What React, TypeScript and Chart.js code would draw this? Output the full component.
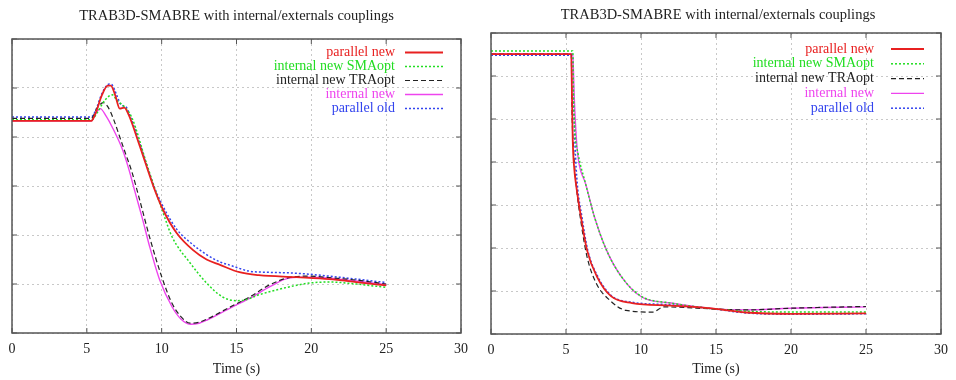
import React, { useEffect, useRef } from "react";
import { Chart, registerables } from "chart.js";

Chart.register(...registerables);

const TITLE = "TRAB3D-SMABRE with internal/externals couplings";
const X_TITLE = "Time (s)";
const SERIES_LABELS = ["parallel new", "internal new SMAopt", "internal new TRAopt", "internal new", "parallel old"];

// Left panel (time s, value)
const leftParallelNew = [[0,4.33],[5.3,4.33],[5.6,4.5],[6.0,4.85],[6.4,5.05],[6.6,5.05],[6.9,4.85],[7.2,4.58],[7.5,4.6],[7.8,4.45],[8.5,3.85],[9.5,2.95],[10.1,2.51],[11,2.04],[12.1,1.69],[13,1.5],[13.9,1.39],[15.2,1.24],[16.5,1.18],[19,1.14],[21.2,1.1],[23,1.04],[25,0.97]];
const leftSMAopt = [[0,4.35],[5.3,4.35],[5.7,4.5],[6.2,4.75],[6.7,4.86],[7.0,4.75],[7.5,4.62],[8.0,4.4],[9.0,3.45],[10.1,2.45],[10.7,1.96],[11.9,1.43],[13,1.02],[14.1,0.73],[15,0.66],[15.5,0.67],[16.5,0.78],[17.2,0.84],[18.5,0.94],[19.9,1.02],[21.2,1.04],[23,1.0],[25,0.93]];
const leftTRAopt = [[0,4.38],[5.3,4.38],[5.7,4.6],[6.1,4.7],[6.4,4.62],[6.8,4.35],[7.2,4.0],[7.6,3.65],[8.0,3.3],[8.5,2.75],[9.2,1.95],[10,1.15],[10.7,0.6],[11.3,0.33],[11.9,0.2],[12.5,0.22],[13,0.28],[14.7,0.55],[15.9,0.74],[17.2,0.98],[18.5,1.13],[19.9,1.16],[21.2,1.13],[23,1.08],[25,1.0]];
const leftInternalNew = [[0,4.33],[5.3,4.33],[5.6,4.48],[5.9,4.58],[6.3,4.42],[6.7,4.2],[7.4,3.73],[7.8,3.35],[8.2,2.9],[8.7,2.35],[9.2,1.76],[9.87,1.08],[10.7,0.53],[11.3,0.28],[11.9,0.18],[12.5,0.2],[13,0.26],[14.7,0.53],[15.9,0.71],[17.2,0.94],[18.5,1.12],[19.9,1.14],[21.2,1.12],[23,1.06],[25,0.99]];
const leftParallelOld = [[0,4.41],[5.3,4.41],[5.6,4.55],[6.0,4.88],[6.5,5.08],[6.7,5.06],[7.0,4.85],[7.3,4.65],[7.6,4.62],[7.9,4.42],[8.5,3.9],[9.5,2.98],[10.1,2.58],[11,2.12],[12.1,1.8],[13,1.6],[13.9,1.45],[14.5,1.39],[15.9,1.26],[17,1.24],[19,1.22],[21.2,1.16],[23,1.1],[25,1.03]];

// Right panel (time s, value)
const rightParallelNew = [[0,6.51],[5.35,6.51],[5.4,5.5],[5.45,4.5],[5.55,3.85],[5.7,3.4],[6.0,2.72],[6.4,1.95],[7.07,1.33],[8.0,0.88],[9.4,0.72],[12,0.66],[14.5,0.6],[17,0.5],[20,0.47],[25,0.48]];
const rightSMAopt = [[0,6.58],[5.45,6.58],[5.5,5.6],[5.6,4.7],[5.8,4.2],[6.3,3.5],[6.9,2.72],[7.7,1.95],[8.7,1.33],[10,0.88],[12,0.72],[15,0.58],[17,0.53],[20,0.51],[25,0.51]];
const rightTRAopt = [[0,6.51],[5.35,6.51],[5.4,5.2],[5.5,4.3],[5.7,3.4],[6.0,2.6],[6.4,1.8],[7.0,1.19],[7.9,0.79],[9.0,0.55],[10.8,0.51],[11.5,0.63],[15,0.58],[17,0.56],[20,0.6],[25,0.64]];
const rightInternalNew = [[0,6.51],[5.45,6.51],[5.55,5.5],[5.7,4.5],[5.85,4.0],[6.3,3.5],[6.9,2.72],[7.7,1.95],[8.7,1.33],[10.05,0.86],[12,0.72],[15,0.58],[17,0.56],[20,0.6],[25,0.63]];
const rightParallelOld = [[0,6.48],[5.45,6.48],[5.5,5.5],[5.6,4.4],[5.75,3.5],[6.05,2.75],[6.45,1.95],[7.1,1.35],[8.0,0.9],[9.4,0.74],[12,0.68],[14.5,0.6],[17,0.49],[20,0.46],[25,0.47]];

const X_MIN = 0;
const X_MAX = 30;
const X_STEP = 5;
const LEFT_Y_MAX = 6;
const RIGHT_Y_MAX = 7;

// styles
const SERIES_COLORS = ["#e82020", "#22dd22", "#222222", "#ee44ee", "#3344ee"];
const SERIES_DASH = [[], [2, 2], [5, 3], [], [2, 2]];
const SERIES_WIDTH = [1.8, 1.5, 1.2, 1.4, 1.5];
const FONT = '"Liberation Serif", "DejaVu Serif", serif';

const framePlugin = {
  id: "gpFrame",
  afterDatasetsDraw(chart: any) {
    const { ctx, chartArea: a, scales } = chart;
    ctx.save();
    ctx.strokeStyle = "#555";
    ctx.lineWidth = 1.5;
    ctx.strokeRect(a.left, a.top, a.right - a.left, a.bottom - a.top);
    ctx.lineWidth = 1;
    const tl = 5;
    const seg = (x1: number, y1: number, x2: number, y2: number) => {
      ctx.beginPath();
      ctx.moveTo(x1, y1);
      ctx.lineTo(x2, y2);
      ctx.stroke();
    };
    scales.x.ticks.forEach((t: any) => {
      const px = scales.x.getPixelForValue(t.value);
      seg(px, a.bottom, px, a.bottom - tl);
      seg(px, a.top, px, a.top + tl);
    });
    scales.y.ticks.forEach((t: any) => {
      const py = scales.y.getPixelForValue(t.value);
      seg(a.left, py, a.left + tl, py);
      seg(a.right, py, a.right - tl, py);
    });
    ctx.restore();
  },
  afterDraw(chart: any) {
    const o = chart.options.plugins.gpLegend;
    if (!o) return;
    const { ctx, chartArea: a } = chart;
    ctx.save();
    ctx.font = `14px ${FONT}`;
    ctx.textAlign = "right";
    ctx.textBaseline = "middle";
    chart.data.datasets.forEach((ds: any, i: number) => {
      const y = a.top + o.firstRow + i * o.rowGap;
      ctx.fillStyle = ds.borderColor;
      ctx.fillText(ds.label, a.right - o.textRight, y);
      ctx.strokeStyle = ds.borderColor;
      ctx.lineWidth = ds.borderWidth;
      ctx.setLineDash(ds.borderDash || []);
      ctx.beginPath();
      ctx.moveTo(a.right - o.lineStart, y);
      ctx.lineTo(a.right - o.lineEnd, y);
      ctx.stroke();
    });
    ctx.restore();
  },
};

type PanelProps = {
  series: number[][][];
  yMax: number;
  pad: { left: number; right: number };
  titlePad: { top: number; bottom: number };
  xHeight: number;
  legend: { firstRow: number; rowGap: number; textRight: number; lineStart: number; lineEnd: number };
};

function Panel(p: PanelProps) {
  const ref = useRef<HTMLCanvasElement | null>(null);
  useEffect(() => {
    if (!ref.current) return;
    const chart = new Chart(ref.current, {
      type: "line",
      data: {
        datasets: p.series.map((s, i) => ({
          label: SERIES_LABELS[i],
          data: s.map(([x, y]) => ({ x, y })),
          borderColor: SERIES_COLORS[i],
          backgroundColor: SERIES_COLORS[i],
          borderDash: SERIES_DASH[i],
          borderWidth: SERIES_WIDTH[i],
          pointRadius: 0,
          cubicInterpolationMode: "monotone",
          fill: false,
        })),
      },
      options: {
        responsive: false,
        animation: false,
        devicePixelRatio: 1,
        layout: { padding: { left: p.pad.left, right: p.pad.right, top: 0, bottom: 0 } },
        plugins: {
          legend: { display: false },
          tooltip: { enabled: false },
          title: {
            display: true,
            text: TITLE,
            color: "#222",
            font: { family: FONT, size: 14.5, weight: "normal" },
            padding: { top: p.titlePad.top, bottom: p.titlePad.bottom },
          },
          gpLegend: p.legend,
        } as any,
        scales: {
          x: {
            type: "linear",
            min: X_MIN,
            max: X_MAX,
            ticks: { stepSize: X_STEP, color: "#222", padding: 8, font: { family: FONT, size: 14 }, maxRotation: 0 },
            grid: { color: "#c8c8c8", drawTicks: false, lineWidth: 1 },
            border: { display: false, dash: [2, 3] },
            title: { display: true, text: X_TITLE, color: "#222", font: { family: FONT, size: 14 }, padding: { top: 0, bottom: 2 } },
            afterFit: (s: any) => { s.height = p.xHeight; },
          },
          y: {
            type: "linear",
            min: 0,
            max: p.yMax,
            ticks: { stepSize: 1, display: false },
            grid: { color: "#c8c8c8", drawTicks: false, lineWidth: 1 },
            border: { display: false, dash: [2, 3] },
            afterFit: (s: any) => { s.width = 0; },
          },
        },
      },
      plugins: [framePlugin],
    } as any);
    return () => chart.destroy();
  }, []);
  return <canvas ref={ref} width={478} height={380} style={{ display: "block", width: 478, height: 380 }} />;
}

export default function App() {
  return (
    <div style={{ position: "fixed", left: 0, top: 0, width: 956, height: 380, background: "#fff", display: "flex" }}>
      <Panel
        series={[leftParallelNew, leftSMAopt, leftTRAopt, leftInternalNew, leftParallelOld]}
        yMax={LEFT_Y_MAX}
        pad={{ left: 12, right: 17 }}
        titlePad={{ top: 7, bottom: 14.6 }}
        xHeight={47}
        legend={{ firstRow: 13.5, rowGap: 14, textRight: 66, lineStart: 56, lineEnd: 18 }}
      />
      <Panel
        series={[rightParallelNew, rightSMAopt, rightTRAopt, rightInternalNew, rightParallelOld]}
        yMax={RIGHT_Y_MAX}
        pad={{ left: 13, right: 11 }}
        titlePad={{ top: 6, bottom: 9.6 }}
        xHeight={46}
        legend={{ firstRow: 16, rowGap: 14.8, textRight: 67, lineStart: 50, lineEnd: 17 }}
      />
    </div>
  );
}
